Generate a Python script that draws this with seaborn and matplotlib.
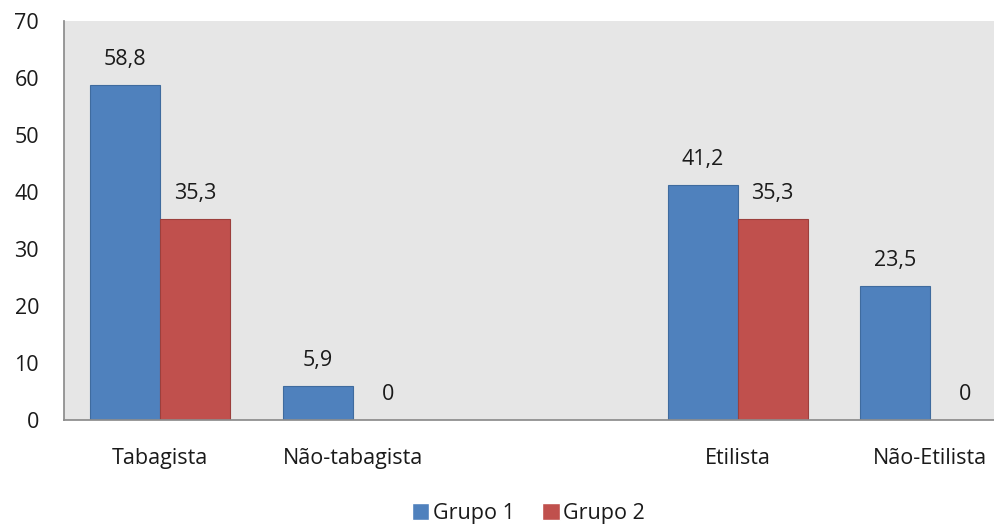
import pandas as pd
import numpy as np
import matplotlib
matplotlib.use("Agg")
import matplotlib.pyplot as plt
import seaborn as sns

categories = ["Tabagista", "Não-tabagista", " ", "Etilista", "Não-Etilista"]
grupo1 = [58.8, 5.9, np.nan, 41.2, 23.5]
grupo2 = [35.3, 0.0, np.nan, 35.3, 0.0]
groups = ["Grupo 1", "Grupo 2"]
colors = ["#4f81bd", "#c0504d"]
edges = ["#3f6b9e", "#9c3f3c"]

df = pd.DataFrame({
    "categoria": categories * 2,
    "valor": grupo1 + grupo2,
    "grupo": [groups[0]] * len(categories) + [groups[1]] * len(categories),
})

sns.set_theme(style="white")
plt.rcParams["font.family"] = ["Open Sans", "DejaVu Sans"]
FS = 15.5
TXT = "#1a1a1a"

fig = plt.figure(figsize=(9.95, 5.27), dpi=100)
ax = fig.add_axes([64 / 995, 1 - 420 / 527, 1 - 64 / 995, (420 - 21) / 527])
ax.set_facecolor("#e6e6e6")

sns.barplot(data=df, x="categoria", y="valor", hue="grupo", order=categories,
            hue_order=groups, palette=colors, saturation=1, width=0.727, gap=0,
            errorbar=None, ax=ax, legend=True)

for cont, ec in zip(ax.containers, edges):
    for b in cont:
        b.set_edgecolor(ec)
        b.set_linewidth(0.8)
    ax.bar_label(cont, fmt=lambda v: "0" if v == 0 else f"{v:.1f}".replace(".", ","),
                 padding=11, fontsize=FS, color=TXT)

ax.set_ylim(0, 70)
ax.set_yticks(range(0, 71, 10))
ax.set_xlim(-0.5, -0.5 + (995 - 64) / 192.5)
ax.set_xlabel("")
ax.set_ylabel("")
ax.tick_params(axis="y", length=0, pad=18, labelsize=FS, labelcolor=TXT)
ax.tick_params(axis="x", length=0, pad=20, labelsize=FS, labelcolor=TXT)
for s in ["top", "right"]:
    ax.spines[s].set_visible(False)
ax.spines["left"].set_color("#8c8c8c")
ax.spines["bottom"].set_color("#8c8c8c")

handles, labels = ax.get_legend_handles_labels()
ax.get_legend().remove()
fig.legend(handles, labels, loc="center", bbox_to_anchor=(0.531, 0.026), ncol=2,
           frameon=False, fontsize=FS, handlelength=0.8, handleheight=0.8,
           handletextpad=0.15, columnspacing=1.3, labelcolor=TXT)

fig.savefig("out.png", dpi=100)
